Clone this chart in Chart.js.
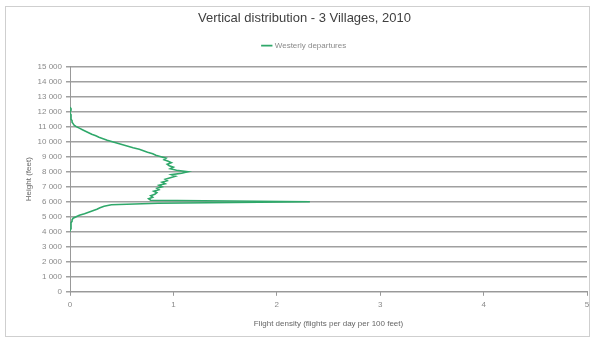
<!DOCTYPE html>
<html>
<head>
<meta charset="utf-8">
<script src="https://cdn.jsdelivr.net/npm/chart.js@4/dist/chart.umd.min.js"></script>
<style>
  body { margin: 0; background: #fff; }
  #wrap { position: relative; width: 594px; height: 340px; }
  #frame { position: absolute; left: 5px; top: 6px; width: 583px; height: 329px; border: 1px solid #cfcfcf; pointer-events: none; }
</style>
</head>
<body>
<div id="wrap">
  <canvas id="chart" width="594" height="340"></canvas>
  <div id="frame"></div>
</div>
<script>
// height bands (feet), 100 ft steps
const heights = [];
for (let h = 4000; h <= 12300; h += 100) heights.push(h);

// flight density, one value per band above
const westerlyDepartures = [
  0.00, 0.00, 0.01, 0.01, 0.01, 0.01, 0.01, 0.02, 0.02, 0.03,   // 4000-4900
  0.06, 0.09, 0.14, 0.18, 0.22, 0.26, 0.29, 0.33, 0.40, 0.85,   // 5000-5900
  2.32, 0.78, 0.76, 0.80, 0.78, 0.82, 0.84, 0.81, 0.86, 0.84,   // 6000-6900
  0.89, 0.86, 0.92, 0.89, 0.94, 0.92, 0.97, 1.02, 0.98, 1.08,   // 7000-7900
  1.14, 1.03, 0.97, 1.00, 0.96, 0.94, 0.98, 0.95, 0.91, 0.93,   // 8000-8900
  0.88, 0.83, 0.80, 0.75, 0.71, 0.67, 0.61, 0.56, 0.51, 0.46,   // 9000-9900
  0.41, 0.36, 0.32, 0.28, 0.25, 0.21, 0.18, 0.15, 0.12, 0.09,   // 10000-10900
  0.06, 0.04, 0.03, 0.02, 0.02, 0.01, 0.01, 0.01, 0.01, 0.00,   // 11000-11900
  0.00, 0.01, 0.01, 0.00                                        // 12000-12300
];

const xTicks = [0, 1, 2, 3, 4, 5];
const yTicks = [0, 1000, 2000, 3000, 4000, 5000, 6000, 7000, 8000, 9000, 10000, 11000, 12000, 13000, 14000, 15000];

const points = heights.map((h, i) => ({ x: westerlyDepartures[i], y: h }));

const grey = '#8a8a8a';
const small = { family: 'Liberation Sans, Arial, sans-serif', size: 8 };

// extra room under the legend, like the original
const legendGap = {
  id: 'legendGap',
  beforeLayout(chart) {
    const lg = chart.legend;
    if (lg && !lg._gapPatched) {
      const fit = lg.fit;
      lg.fit = function () { fit.call(this); this.height += 7; };
      lg._gapPatched = true;
    }
  }
};

new Chart(document.getElementById('chart').getContext('2d'), {
  type: 'scatter',
  data: {
    datasets: [{
      label: 'Westerly departures',
      data: points,
      showLine: true,
      borderColor: '#2fa86a',
      backgroundColor: '#2fa86a',
      borderWidth: 1.6,
      pointRadius: 0,
      tension: 0
    }]
  },
  options: {
    responsive: false,
    animation: false,
    layout: { padding: { left: 22, right: 7, top: 0, bottom: 7 } },
    plugins: {
      title: {
        display: true,
        text: 'Vertical distribution - 3 Villages, 2010',
        color: '#404040',
        font: { family: 'Liberation Sans, Arial, sans-serif', size: 13, weight: 'normal' },
        padding: { top: 11, bottom: 4 }
      },
      legend: {
        display: true,
        labels: {
          usePointStyle: true,
          pointStyle: 'line',
          boxWidth: 20,
          color: grey,
          font: small,
          padding: 11
        }
      },
      tooltip: { enabled: false }
    },
    scales: {
      x: {
        type: 'linear',
        min: 0,
        max: 5,
        afterBuildTicks: s => { s.ticks = xTicks.map(v => ({ value: v })); },
        grid: { drawOnChartArea: false, drawTicks: true, tickLength: 4, color: '#999' },
        border: { color: '#999' },
        ticks: { color: grey, font: small, padding: 4 },
        title: { display: true, text: 'Flight density (flights per day per 100 feet)', color: '#666', font: small, padding: { top: 6 } }
      },
      y: {
        type: 'linear',
        min: 0,
        max: 15000,
        afterBuildTicks: s => { s.ticks = yTicks.map(v => ({ value: v })); },
        afterFit: s => { s.width = 48; },
        grid: { color: '#a0a0a0', lineWidth: 1.5, drawTicks: true, tickLength: 4 },
        border: { color: '#999' },
        ticks: {
          color: grey,
          font: small,
          padding: 4,
          callback: v => v >= 1000 ? Math.floor(v / 1000) + ' ' + String(v % 1000).padStart(3, '0') : String(v)
        },
        title: { display: true, text: 'Height (feet)', color: '#666', font: small, padding: 2 }
      }
    }
  },
  plugins: [legendGap]
});
</script>
</body>
</html>
